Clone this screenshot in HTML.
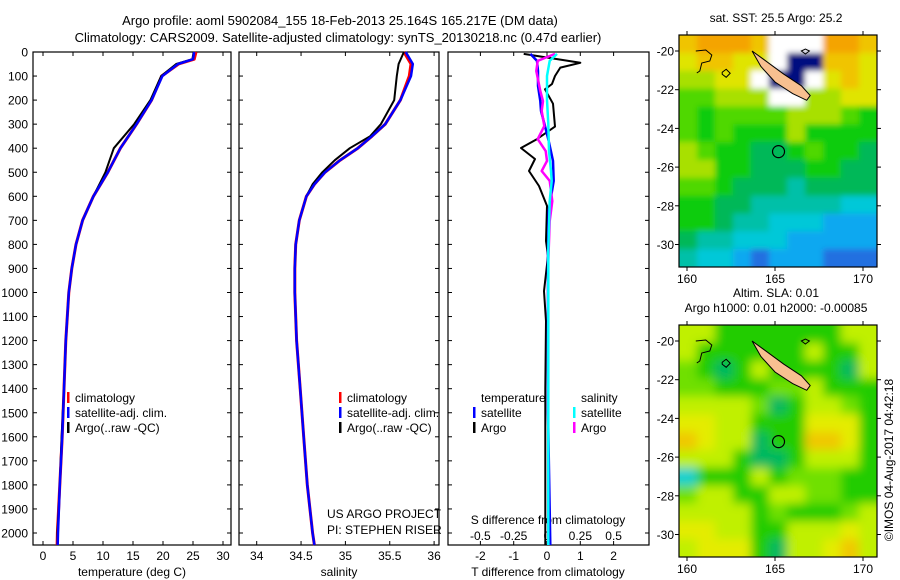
<!DOCTYPE html>
<html><head><meta charset="utf-8"><style>
html,body{margin:0;padding:0;background:#fff}
svg{display:block;font-family:"Liberation Sans",sans-serif}
</style></head><body>
<svg id="c" width="900" height="580" viewBox="0 0 900 580" xmlns="http://www.w3.org/2000/svg">
<defs>
<filter id="blurA" x="-5%" y="-5%" width="110%" height="110%"><feGaussianBlur stdDeviation="5"/></filter>
<filter id="blurB" x="-5%" y="-5%" width="110%" height="110%"><feGaussianBlur stdDeviation="3"/></filter>
<clipPath id="clipSst"><rect x="679" y="35" width="198" height="232"/></clipPath>
<clipPath id="clipSla"><rect x="679" y="325" width="198" height="232"/></clipPath>
</defs>
<text x="340" y="25" font-size="13" text-anchor="middle">Argo profile: aoml 5902084_155 18-Feb-2013 25.164S 165.217E (DM data)</text>
<text x="338" y="42" font-size="13" text-anchor="middle">Climatology: CARS2009. Satellite-adjusted climatology: synTS_20130218.nc (0.47d earlier)</text>
<g id="p"></g>
</svg>
<script>
// ---- profile data ----
const tempDepths=[0,30,50,100,200,300,400,500,600,700,800,900,1000,1200,1400,1600,1800,2000,2050];
const tempClim=[25.5,25.2,22.6,19.8,18.1,15.6,12.9,10.8,8.4,6.6,5.5,4.8,4.3,3.8,3.5,3.2,2.8,2.4,2.35];
const tempSat=[25.2,25.0,22.5,19.9,18.1,15.6,12.9,10.8,8.4,6.6,5.5,4.8,4.3,3.8,3.5,3.2,2.8,2.5,2.45];
const tempArgo=[25.1,24.9,22.2,19.7,17.9,15.2,11.8,10.4,8.4,6.6,5.5,4.8,4.3,3.8,3.5,3.1,2.8,2.4,2.4];
const salDepths=[0,50,100,200,300,350,400,450,500,550,600,700,800,900,1000,1200,1400,1600,1800,2000,2050];
const salClim=[35.66,35.74,35.72,35.62,35.45,35.3,35.14,34.94,34.77,34.65,34.56,34.48,34.44,34.43,34.43,34.45,34.49,34.53,34.57,34.63,34.65];
const salSat=[35.68,35.76,35.74,35.62,35.45,35.3,35.14,34.94,34.77,34.65,34.56,34.48,34.44,34.43,34.43,34.45,34.49,34.53,34.57,34.63,34.65];
const salArgo=[35.66,35.6,35.58,35.55,35.4,35.28,35.05,34.88,34.74,34.63,34.56,34.48,34.44,34.43,34.43,34.45,34.49,34.53,34.57,34.63,34.65];
const dTArgoDepths=[8,45,65,100,133,155,215,310,362,399,445,495,557,640,786,848,994,1119,1400,2050];
const dTArgo=[-0.7,1.0,0.4,0.24,0.15,-0.06,0.18,0.24,-0.3,-0.78,-0.36,-0.54,-0.24,0,-0.03,0.03,-0.09,-0.03,-0.05,-0.05];
const dTSatDepths=[8,37,79,141,204,245,308,370,453,536,578,661,827,1035,1500,2050];
const dTSat=[-0.5,-0.3,-0.27,-0.27,-0.2,-0.18,-0.06,0.05,0.18,0.2,0.15,0.05,0.03,0.03,0.03,0.1];
const dSArgoDepths=[8,37,79,162,204,245,308,362,412,453,495,536,620,703,869,1035,2050];
const dSArgo=[0.06,-0.07,-0.08,-0.05,-0.03,-0.04,-0.02,-0.07,-0.01,0,-0.04,0.02,0.04,0.02,0.01,0.01,0.01];
const dSSatDepths=[8,37,100,200,300,412,495,536,620,827,1035,2050];
const dSSat=[0.075,0.02,0,0,0.01,0.015,0.03,0.035,0.02,0.01,0.01,0.01];
const depthTicks=[0,100,200,300,400,500,600,700,800,900,1000,1100,1200,1300,1400,1500,1600,1700,1800,1900,2000];
const tempTicks=[0,5,10,15,20,25,30];
const salTicks=[34,34.5,35,35.5,36];
const tdTicks=[-2,-1,0,1,2];
const sdTicks=[-0.5,-0.25,0,0.25,0.5];
// ---- map data ----
const sstRows=["10001WWW001","21122WNN112","3322WNNW212","44333WW3322","45444433345","45455535555","34556654556","33556665566","44566676666","55667777788","55677888999","67788899999","7889a999aaa"];
const slaRows=["33555555533","35555553553","45653555563","44555443555","33334653345","22335552225","12336551125","33356653335","85553544455","43355334455","33335455543","22335533323","32225633213"];
const lonTicks=[160,165,170];
const latTicks=[-20,-22,-24,-26,-28,-30];
const island=[[163.7,-20.0],[164.3,-20.4],[165.5,-21.2],[166.5,-21.8],[167.0,-22.3],[166.8,-22.55],[166.0,-22.2],[165.0,-21.6],[164.2,-20.8]];
const argoPos=[165.2,-25.2];

const NS="http://www.w3.org/2000/svg";
const G=document.getElementById('p');
function mk(tag,at,parent){const e=document.createElementNS(NS,tag);for(const k in at)e.setAttribute(k,at[k]);(parent||G).appendChild(e);return e;}
const TOP=52,BOT=545;
const yD=d=>TOP+d*0.2405;
const xT=t=>43+t*6;
const xS=s=>256.7+(s-34)*88.7;
const xTd=t=>547+t*33.3;
const xSd=s=>547+s*133.3;

function panel(x0,x1,name){
  const r=mk('rect',{x:x0,y:TOP,width:x1-x0,height:BOT-TOP,fill:'none',stroke:'#000','stroke-width':1.2});
  
  
}
panel(33,231,'temperature-panel');panel(239,439,'salinity-panel');panel(448,649,'difference-panel');

depthTicks.forEach(d=>{
  const y=yD(d);
  [[33,1],[231,-1],[239,1],[439,-1],[448,1],[649,-1]].forEach(([x,s])=>mk('line',{x1:x,x2:x+4*s,y1:y,y2:y,stroke:'#000'}));
  const t=mk('text',{x:28,y:y+4.5,'font-size':12,'text-anchor':'end'});t.textContent=d;
  
  
});
function xticks(arr,fx,name,ly,topTicks){
  arr.forEach(v=>{const x=fx(v);
    mk('line',{x1:x,x2:x,y1:BOT,y2:BOT-4,stroke:'#000'});
    if(topTicks)mk('line',{x1:x,x2:x,y1:TOP,y2:TOP+4,stroke:'#000'});
    const t=mk('text',{x:x,y:ly,'font-size':12,'text-anchor':'middle'});t.textContent=v;
    
    });
}
xticks(tempTicks,xT,'temperature-tick-label',560,true);
xticks(salTicks,xS,'salinity-tick-label',560,true);
xticks(tdTicks,xTd,'t-diff-tick-label',560,true);
sdTicks.forEach(v=>{const t=mk('text',{x:xSd(v),y:540,'font-size':12,'text-anchor':'middle'});t.textContent=v;
  
  });

function label(x,y,s,name,anchor,size){const t=mk('text',{x:x,y:y,'font-size':size||12,'text-anchor':anchor||'start'});t.textContent=s;
  
  return t;}
label(132,576,'temperature (deg C)','temperature-axis-title','middle');
label(339,576,'salinity','salinity-axis-title','middle');
label(548,576,'T difference from climatology','t-diff-axis-title','middle');
label(548,524,'S difference from climatology','s-diff-axis-title','middle');
label(327,518,'US ARGO PROJECT','project-note');
label(327,534,'PI: STEPHEN RISER','pi-note');

function line(depths,vals,fx,color,w,name){
  const pts=depths.map((d,i)=>fx(vals[i]).toFixed(1)+','+yD(d).toFixed(1)).join(' ');
  const p=mk('polyline',{points:pts,fill:'none',stroke:color,'stroke-width':w,'stroke-linejoin':'round'});
  
  
}
line(tempDepths,tempClim,xT,'#f00',3,'temperature-climatology-line');
line(tempDepths,tempArgo,xT,'#000',2,'temperature-argo-line');
line(tempDepths,tempSat,xT,'#0000ff',2.5,'temperature-satellite-line');
line(salDepths,salClim,xS,'#f00',3,'salinity-climatology-line');
line(salDepths,salArgo,xS,'#000',2,'salinity-argo-line');
line(salDepths,salSat,xS,'#0000ff',2.5,'salinity-satellite-line');
line(dTArgoDepths,dTArgo,xTd,'#000',2,'t-diff-argo-line');
line(dTSatDepths,dTSat,xTd,'#0000ff',2.5,'t-diff-satellite-line');
line(dSArgoDepths,dSArgo,xSd,'#ff00ff',2.5,'s-diff-argo-line');
line(dSSatDepths,dSSat,xSd,'#00ffff',2.5,'s-diff-satellite-line');

function legend(x,y,color,txt,name){
  const r=mk('rect',{x:x,y:y-10,width:2.5,height:11,fill:color});
  
  
  label(x+8,y,txt,name);
}
legend(67,402,'#f00','climatology','legend-climatology');
legend(67,417,'#0000ff','satellite-adj. clim.','legend-satellite');
legend(67,432,'#000','Argo(..raw -QC)','legend-argo');
legend(339,402,'#f00','climatology','legend-climatology-2');
legend(339,417,'#0000ff','satellite-adj. clim.','legend-satellite-2');
legend(339,432,'#000','Argo(..raw -QC)','legend-argo-2');
label(481,402,'temperature','legend-temperature-header');
label(581,402,'salinity','legend-salinity-header');
legend(473,417,'#0000ff','satellite','legend-t-satellite');
legend(473,432,'#000','Argo','legend-t-argo');
legend(573,417,'#00ffff','satellite','legend-s-satellite');
legend(573,432,'#ff00ff','Argo','legend-s-argo');

// ---- maps ----
const sstCol={'0':'#f4a400','1':'#f0c400','2':'#e0e400','3':'#a8e000','4':'#50d800','5':'#10cc10','6':'#00b858','7':'#00c0a8','8':'#00c8d8','9':'#10a8f0','a':'#2070e0','W':'#ffffff','N':'#001080'};
const slaCol={'0':'#f0a000','1':'#f0c800','2':'#e4ec00','3':'#c0f000','4':'#70e000','5':'#20cc00','6':'#00b860','8':'#00d0d0'};
function map(top,rows,cols,name,title1,title2,filt,clip){
  const L=679,R=877,B=top+232;
  const lx=lon=>687+(lon-160)*17.6;
  const ly=lat=>top+16+(-20-lat)*19.35;
  const g=mk('g',{});
  
  
  const cg=mk('g',{'clip-path':'url(#'+clip+')'},g);
  const cells=mk('g',{filter:'url(#'+filt+')'},cg);
  mk('rect',{x:L-20,y:top-20,width:R-L+40,height:B-top+40,fill:cols[rows[6][5]]},cells);
  const cw=(R-L)/rows[0].length,ch=(B-top)/rows.length;
  rows.forEach((row,j)=>{[...row].forEach((c,i)=>{
    const ex=(i==0?-15:0),ey=(j==0?-15:0);
    const ew=(i==row.length-1?15:0)-ex,eh=(j==rows.length-1?15:0)-ey;
    const r=mk('rect',{x:(L+i*cw+ex).toFixed(2),y:(top+j*ch+ey).toFixed(2),width:(cw+0.6+ew).toFixed(2),height:(ch+0.6+eh).toFixed(2),fill:cols[c]},cells);
    
    
  });});
  const isl=mk('polygon',{points:island.map(p=>lx(p[0]).toFixed(1)+','+ly(p[1]).toFixed(1)).join(' '),fill:'#f8c090',stroke:'#000','stroke-width':1},g);
  
  
  const coast=mk('path',{d:`M${lx(160.5)},${ly(-20)} l10,-1 l6,5 l-2,6 l-8,2 l-2,8 l-3,2 M${lx(162)},${ly(-21.1)} l4,-3 l4,4 l-4,4 l-4,-3z M${lx(166.5)},${ly(-20)} l4,-2 l4,2 l-4,3z`,fill:'none',stroke:'#000','stroke-width':1},g);
  
  
  const c=mk('circle',{cx:lx(argoPos[0]),cy:ly(argoPos[1]),r:6,fill:'none',stroke:'#000','stroke-width':1.2},g);
  
  
  mk('rect',{x:L,y:top,width:R-L,height:B-top,fill:'none',stroke:'#000','stroke-width':1.2},g);
  latTicks.forEach(v=>{const y=ly(v);
    mk('line',{x1:L,x2:L-4,y1:y,y2:y,stroke:'#000'});mk('line',{x1:R,x2:R+4,y1:y,y2:y,stroke:'#000'});
    label(674,y+4.5,v,'map-lat-label','end');});
  lonTicks.forEach(v=>{const x=lx(v);
    mk('line',{x1:x,x2:x,y1:top,y2:top-4,stroke:'#000'});mk('line',{x1:x,x2:x,y1:B,y2:B+4,stroke:'#000'});
    label(x,B+16,v,'map-lon-label','middle');});
  label(776,top-13,title1,name+'-title','middle');
  if(title2)label(776,top-28,title2,name+'-title-2','middle');
}
map(35,sstRows,sstCol,'sst-map','sat. SST: 25.5 Argo: 25.2',null,'blurB','clipSst');
map(325,slaRows,slaCol,'sla-map','Argo h1000: 0.01 h2000: -0.00085','Altim. SLA: 0.01','blurA','clipSla');
const cp=label(0,0,'\u00a9IMOS 04-Aug-2017 04:42:18','timestamp','middle');
cp.setAttribute('transform','translate(893,460) rotate(-90)');
</script>
</body></html>
